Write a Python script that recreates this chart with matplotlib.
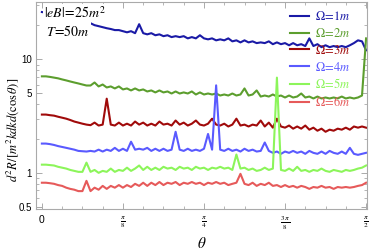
import numpy as np
import matplotlib.pyplot as plt
from matplotlib.ticker import FixedLocator, NullFormatter

plt.rcParams['mathtext.fontset'] = 'stix'
plt.rcParams['font.family'] = ['Liberation Sans', 'DejaVu Sans']

# sample angles, 0 .. pi/2
n_pts = 81
theta = np.linspace(0, np.pi / 2, n_pts)

omega1 = [26.1, 25.8, 25.5, 25.0, 24.5, 24.0, 23.5, 23.1, 22.6, 22.1,
          22.0, 21.6, 20.8, 20.0, 19.6, 19.2, 18.8, 18.5, 18.1, 18.1,
          17.7, 17.3, 17.7, 17.0, 20.4, 17.0, 16.6, 17.0, 16.3, 16.6,
          16.0, 16.3, 15.7, 16.0, 15.7, 16.0, 15.3, 15.7, 15.3, 16.3,
          15.3, 15.0, 15.3, 14.7, 15.0, 14.7, 15.3, 14.4, 14.7, 14.1,
          14.7, 14.1, 14.4, 13.9, 14.1, 13.9, 14.4, 13.6, 14.1, 13.6,
          13.9, 13.3, 13.9, 13.3, 13.6, 13.1, 15.3, 13.1, 13.6, 12.8,
          13.3, 12.8, 13.1, 12.8, 13.1, 12.8, 13.3, 13.9, 14.7, 14.4,
          12.0]
omega2 = [7.08, 7.08, 7.0, 6.9, 6.8, 6.65, 6.52, 6.38, 6.25, 6.13,
          6.0, 5.88, 5.88, 6.25, 5.77, 6.0, 5.65, 5.77, 5.54, 5.77,
          5.43, 5.54, 5.32, 5.54, 5.32, 5.43, 5.21, 5.32, 5.11, 5.32,
          5.11, 5.21, 5.0, 5.21, 5.0, 5.11, 5.0, 5.21, 4.9, 5.11,
          4.9, 5.0, 4.9, 5.0, 4.8, 4.9, 4.8, 5.0, 4.8, 4.9,
          5.54, 4.8, 4.9, 5.32, 4.7, 4.8, 4.7, 4.9, 4.7, 4.8,
          4.61, 4.8, 4.61, 4.7, 5.0, 4.61, 4.7, 4.52, 4.7, 4.52,
          4.61, 4.52, 4.61, 4.52, 4.7, 4.52, 4.61, 4.52, 4.61, 4.8,
          15.3]
omega3 = [3.26, 3.26, 3.22, 3.19, 3.12, 3.06, 3.0, 2.92, 2.83, 2.77,
          2.71, 2.66, 2.63, 2.77, 2.61, 2.66, 4.5, 2.66, 2.61, 2.77,
          2.61, 2.71, 2.61, 2.83, 2.66, 2.77, 2.61, 2.71, 2.61, 2.83,
          2.66, 2.71, 2.61, 2.89, 2.66, 2.77, 2.61, 2.71, 2.89, 2.66,
          2.61, 2.71, 3.0, 2.66, 2.61, 2.71, 2.56, 2.66, 3.0, 2.61,
          2.66, 2.56, 2.66, 2.61, 2.89, 2.56, 2.77, 2.5, 3.0, 2.56,
          2.5, 2.61, 2.45, 2.56, 2.45, 2.61, 2.4, 2.5, 2.35, 2.45,
          2.3, 2.4, 2.35, 2.45, 2.4, 2.5, 2.4, 2.56, 2.5, 2.56,
          2.5]
omega4 = [1.81, 1.81, 1.79, 1.76, 1.72, 1.69, 1.66, 1.63, 1.60, 1.56,
          1.55, 1.54, 1.56, 1.54, 1.60, 1.54, 1.60, 1.56, 1.66, 1.56,
          1.63, 1.56, 1.88, 1.60, 1.63, 1.60, 1.66, 1.56, 1.63, 1.56,
          1.63, 1.56, 1.60, 2.3, 1.60, 1.56, 1.63, 1.56, 1.60, 1.56,
          1.63, 2.2, 1.60, 5.9, 1.60, 1.56, 1.63, 1.56, 1.60, 1.54,
          1.63, 1.56, 1.60, 1.54, 1.56, 1.85, 1.56, 1.5, 1.54, 1.47,
          1.54, 1.5, 1.56, 1.5, 1.54, 1.47, 1.56, 1.5, 1.47, 1.54,
          1.47, 1.56, 1.5, 1.47, 1.54, 1.47, 1.66, 1.47, 1.44, 1.47,
          1.5]
omega5 = [1.18, 1.18, 1.17, 1.16, 1.13, 1.11, 1.09, 1.06, 1.04, 1.02,
          1.02, 1.23, 1.02, 1.06, 1.0, 1.04, 1.02, 1.09, 1.02, 1.06,
          1.04, 1.11, 1.04, 1.09, 1.16, 1.06, 1.13, 1.06, 1.11, 1.06,
          1.13, 1.09, 1.11, 1.06, 1.13, 1.09, 1.11, 1.06, 1.13, 1.09,
          1.11, 1.06, 1.11, 1.09, 1.13, 1.09, 1.11, 1.06, 1.45, 1.09,
          1.11, 1.06, 1.09, 1.04, 1.06, 1.11, 1.06, 1.09, 6.9, 1.06,
          1.04, 1.09, 1.04, 1.13, 1.04, 1.06, 1.02, 1.06, 1.04, 1.09,
          1.04, 1.02, 1.06, 1.04, 1.02, 1.06, 1.04, 1.06, 1.09, 1.11,
          1.16]
omega6 = [0.818, 0.818, 0.81, 0.80, 0.78, 0.767, 0.74, 0.722, 0.71, 0.69,
          0.69, 0.85, 0.69, 0.74, 0.71, 0.767, 0.722, 0.767, 0.74, 0.78,
          0.74, 0.78, 0.75, 0.80, 0.767, 0.818, 0.767, 0.818, 0.78, 0.83,
          0.78, 0.818, 0.80, 0.83, 0.78, 0.818, 0.80, 0.83, 0.80, 0.818,
          0.78, 0.818, 0.80, 0.83, 0.80, 0.818, 0.78, 0.80, 0.818, 0.98,
          0.80, 0.78, 0.818, 0.767, 0.80, 0.78, 0.818, 0.767, 0.78, 0.75,
          0.78, 0.75, 0.767, 0.74, 0.767, 0.75, 0.722, 0.75, 0.74, 0.767,
          0.74, 0.75, 0.722, 0.75, 0.74, 0.75, 0.74, 0.75, 0.767, 0.78,
          0.818]

series = [omega1, omega2, omega3, omega4, omega5, omega6]
labels = [r'$\Omega\!=\!1m$', r'$\Omega\!=\!2m$', r'$\Omega\!=\!3m$',
          r'$\Omega\!=\!4m$', r'$\Omega\!=\!5m$', r'$\Omega\!=\!6m$']
colors = ['#1a1aa6', '#5c9e2e', '#a00a0a', '#5a5aff', '#8cf55a', '#e65a5a']

xtick_pos = [0, np.pi / 8, np.pi / 4, 3 * np.pi / 8, np.pi / 2]
xtick_lab = ['0', r'$\frac{\pi}{8}$', r'$\frac{\pi}{4}$',
             r'$\frac{3\,\pi}{8}$', r'$\frac{\pi}{2}$']
ytick_pos = [0.5, 1, 5, 10]
ytick_lab = ['0.5', '1', '5', '10']

fig = plt.figure(figsize=(3.74, 2.5), dpi=100)
ax = fig.add_axes([0.096, 0.164, 0.885, 0.828])

for vals, lab, col in zip(series, labels, colors):
    ax.plot(theta, vals, color=col, lw=1.5, label=lab)

ax.set_yscale('log')
ax.set_xlim(-0.029, np.pi / 2 + 0.004)
ax.set_ylim(0.48, 32)

ax.xaxis.set_major_locator(FixedLocator(xtick_pos))
ax.set_xticklabels(xtick_lab)
ax.xaxis.set_minor_locator(FixedLocator(np.arange(0, 17) * np.pi / 32))
ax.yaxis.set_major_locator(FixedLocator(ytick_pos))
ax.set_yticklabels(ytick_lab)
ax.yaxis.set_minor_locator(FixedLocator([0.6, 0.7, 0.8, 0.9, 2, 3, 4, 6, 7, 8, 9, 20, 30]))
ax.yaxis.set_minor_formatter(NullFormatter())

ax.tick_params(which='both', direction='in', top=True, right=True,
               color='#aaaaaa', labelsize=7, pad=3)
ax.tick_params(which='major', length=4, width=0.7)
ax.tick_params(which='minor', length=2, width=0.6)
ax.tick_params(axis='x', labelsize=7.5, pad=4)
for sp in ax.spines.values():
    sp.set_color('#aaaaaa')
    sp.set_linewidth(0.8)

ax.set_xlabel(r'$\theta$', fontsize=11, labelpad=0)
ax.xaxis.set_label_coords(0.5, -0.13)
ax.set_ylabel(r'$d^2R/[m^2kdkd(\cos\theta)]$', fontsize=9)
ax.yaxis.set_label_coords(-0.045, 0.38)

leg = ax.legend(loc='upper right', bbox_to_anchor=(0.968, 0.99), frameon=False,
                fontsize=9, handlelength=1.5, handletextpad=0.45,
                labelspacing=0.3, borderpad=0, labelcolor='linecolor')

ax.text(0.025, 0.985, r'$|eB|\!=\!25m^2$', transform=ax.transAxes, fontsize=10,
        va='top', ha='left', bbox=dict(facecolor='white', edgecolor='none', pad=1))
ax.text(0.03, 0.895, r'$T\!=\!50m$', transform=ax.transAxes, fontsize=10,
        va='top', ha='left', bbox=dict(facecolor='white', edgecolor='none', pad=1))

plt.savefig('out.png', dpi=100)
